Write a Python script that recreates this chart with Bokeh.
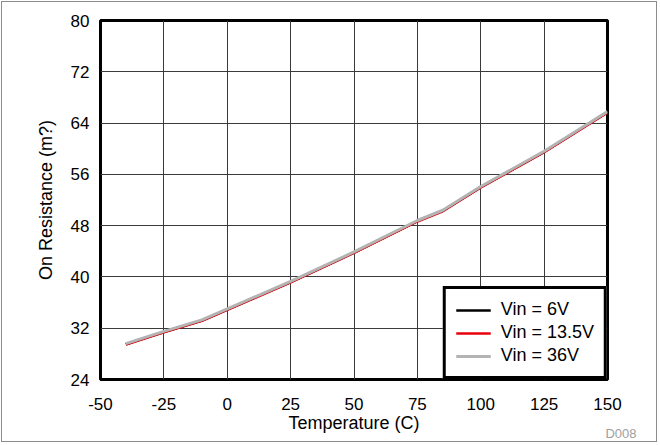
from bokeh.plotting import figure
from bokeh.models import Range1d, FixedTicker, Legend, LegendItem, Title
from bokeh.embed import file_html
from bokeh.resources import INLINE

# Data
temperature = [-40, -25, -10, 0, 25, 50, 75, 85, 100, 125, 150]
r_6v = [29.5, 31.4, 33.2, 34.9, 39.2, 43.8, 48.7, 50.3, 54.0, 59.5, 65.7]
r_13v5 = [29.45, 31.35, 33.15, 34.85, 39.15, 43.75, 48.65, 50.25, 53.95, 59.45, 65.65]
r_36v = [29.6, 31.5, 33.3, 35.0, 39.3, 43.9, 48.8, 50.4, 54.1, 59.6, 65.8]

x_ticks = [-50, -25, 0, 25, 50, 75, 100, 125, 150]
y_ticks = [24, 32, 40, 48, 56, 64, 72, 80]

FONT = "Liberation Sans"

p = figure(width=656, height=441, output_backend="svg", toolbar_location=None,
           x_range=Range1d(-50, 150), y_range=Range1d(24, 80),
           min_border_left=98, min_border_right=51, min_border_top=18, min_border_bottom=64)
p.styles = {"border": "1px solid #8c8c8c", "margin-left": "1px", "margin-top": "1px"}

p.background_fill_color = "white"
p.border_fill_color = "white"
p.outline_line_color = "black"
p.outline_line_width = 3
p.outline_line_alpha = 1

for ax in (p.xaxis[0], p.yaxis[0]):
    ax.axis_line_color = None
    ax.major_tick_line_color = None
    ax.minor_tick_line_color = None
    ax.major_tick_out = 0
    ax.major_tick_in = 0
    ax.major_label_text_font = FONT
    ax.major_label_text_font_size = "17px"
    ax.major_label_text_color = "black"
    ax.axis_label_text_font = FONT
    ax.axis_label_text_font_size = "18px"
    ax.axis_label_text_font_style = "normal"
    ax.axis_label_text_color = "black"

p.xaxis.ticker = FixedTicker(ticks=x_ticks)
p.yaxis.ticker = FixedTicker(ticks=y_ticks)
p.xaxis.major_label_overrides = {t: str(t) for t in x_ticks}
p.xaxis.axis_label = "Temperature (C)"
p.yaxis.axis_label = "On Resistance (m?)"
p.xaxis.major_label_standoff = 18
p.yaxis.major_label_standoff = 11
p.xaxis.axis_label_standoff = 0
p.yaxis.axis_label_standoff = 12

p.xgrid.ticker = FixedTicker(ticks=x_ticks)
p.ygrid.ticker = FixedTicker(ticks=y_ticks)
p.grid.grid_line_color = "#3a3a3a"
p.grid.grid_line_width = 1

l1 = p.line(temperature, r_6v, line_color="black", line_width=2.5)
l2 = p.line(temperature, r_13v5, line_color="#e8000b", line_width=2.5)
l3 = p.line(temperature, r_36v, line_color="#b3b3b3", line_width=3)

legend = Legend(items=[
    LegendItem(label="Vin = 6V", renderers=[l1]),
    LegendItem(label="Vin = 13.5V", renderers=[l2]),
    LegendItem(label="Vin = 36V", renderers=[l3]),
], location="bottom_right")
legend.margin = 0
legend.padding = 10
legend.spacing = 2
legend.label_height = 20
legend.glyph_height = 20
legend.glyph_width = 35
legend.label_standoff = 10
legend.label_text_font = FONT
legend.label_text_font_size = "18px"
legend.label_text_color = "black"
legend.border_line_color = "black"
legend.border_line_width = 3
legend.border_line_alpha = 1
legend.background_fill_color = "white"
legend.background_fill_alpha = 1
p.add_layout(legend, "center")

tag = Title(text="D008", align="right", vertical_align="top", offset=-29, standoff=-20,
            text_font=FONT, text_font_size="13px", text_font_style="normal",
            text_color="#a0a0a0")
p.add_layout(tag, "below")

open("out.html", "w").write(file_html(p, INLINE))
